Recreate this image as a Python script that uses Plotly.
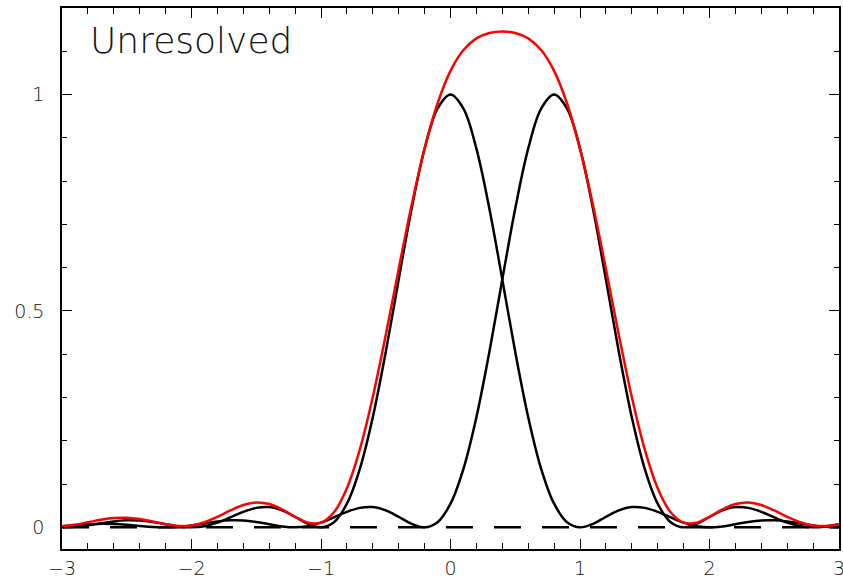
import plotly.graph_objects as go

# x grid (step 0.1) from -3 to 3
x = [round(-3 + 0.1 * i, 1) for i in range(61)]

# Single-source pattern centred at 0 (values read/estimated from the picture)
peak_a = [0.0000, 0.0012, 0.0045, 0.0091, 0.0136, 0.0162, 0.0159, 0.0125, 0.0072, 0.0022,
          0.0000, 0.0027, 0.0108, 0.0229, 0.0358, 0.0450, 0.0468, 0.0392, 0.0243, 0.0080,
          0.0000, 0.0119, 0.0547, 0.1353, 0.2546, 0.4053, 0.5728, 0.7368, 0.8751, 0.9675,
          1.0000,
          0.9675, 0.8751, 0.7368, 0.5728, 0.4053, 0.2546, 0.1353, 0.0547, 0.0119, 0.0000,
          0.0080, 0.0243, 0.0392, 0.0468, 0.0450, 0.0358, 0.0229, 0.0108, 0.0027, 0.0000,
          0.0022, 0.0072, 0.0125, 0.0159, 0.0162, 0.0136, 0.0091, 0.0045, 0.0012, 0.0000]

# Single-source pattern centred at 0.8
peak_b = [0.0024, 0.0048, 0.0071, 0.0083, 0.0079, 0.0061, 0.0034, 0.0010, 0.0000, 0.0012,
          0.0045, 0.0091, 0.0136, 0.0162, 0.0159, 0.0125, 0.0072, 0.0022, 0.0000, 0.0027,
          0.0108, 0.0229, 0.0358, 0.0450, 0.0468, 0.0392, 0.0243, 0.0080, 0.0000, 0.0119,
          0.0547, 0.1353, 0.2546, 0.4053, 0.5728, 0.7368, 0.8751, 0.9675, 1.0000, 0.9675,
          0.8751, 0.7368, 0.5728, 0.4053, 0.2546, 0.1353, 0.0547, 0.0119, 0.0000, 0.0080,
          0.0243, 0.0392, 0.0468, 0.0450, 0.0358, 0.0229, 0.0108, 0.0027, 0.0000, 0.0022,
          0.0072]

# Combined intensity (red)
total = [0.0024, 0.0060, 0.0116, 0.0174, 0.0215, 0.0223, 0.0193, 0.0135, 0.0072, 0.0034,
         0.0045, 0.0118, 0.0244, 0.0391, 0.0517, 0.0575, 0.0540, 0.0414, 0.0243, 0.0107,
         0.0108, 0.0348, 0.0905, 0.1803, 0.3014, 0.4445, 0.5971, 0.7448, 0.8751, 0.9794,
         1.0547, 1.1028, 1.1297, 1.1421, 1.1456, 1.1421, 1.1297, 1.1028, 1.0547, 0.9794,
         0.8751, 0.7448, 0.5971, 0.4445, 0.3014, 0.1803, 0.0905, 0.0348, 0.0108, 0.0107,
         0.0243, 0.0414, 0.0540, 0.0575, 0.0517, 0.0391, 0.0244, 0.0118, 0.0045, 0.0034,
         0.0072]

baseline_x = [-3, 3]
baseline_y = [0, 0]

x_tickvals = [-3, -2, -1, 0, 1, 2, 3]
y_tickvals = [0, 0.5, 1]
y_ticktext = ["0", "0.5", "1"]
label_text = "Unresolved"

FONT = "DejaVu Sans"

fig = go.Figure()
fig.add_trace(go.Scatter(x=baseline_x, y=baseline_y, mode="lines",
                         line=dict(color="black", width=2.5, dash="27px,21px"),
                         hoverinfo="skip"))
fig.add_trace(go.Scatter(x=x, y=peak_a, mode="lines",
                         line=dict(color="black", width=2.5, shape="spline")))
fig.add_trace(go.Scatter(x=x, y=peak_b, mode="lines",
                         line=dict(color="black", width=2.5, shape="spline")))
fig.add_trace(go.Scatter(x=x, y=total, mode="lines",
                         line=dict(color="#ff0000", width=2.5, shape="spline")))

axis_common = dict(showgrid=False, zeroline=False, showline=True, linecolor="black",
                   linewidth=1.5, mirror="allticks", ticks="inside", tickcolor="black",
                   tickwidth=1, ticklen=10, automargin=False, ticklabeloverflow="allow",
                   tickfont=dict(family=FONT, size=19, color="#111", weight=200))

fig.update_xaxes(range=[-3, 3], tickvals=x_tickvals, ticklabelstandoff=1,
                 minor=dict(dtick=0.2, ticklen=6, ticks="inside", tickcolor="black", tickwidth=1),
                 **axis_common)
fig.update_yaxes(range=[-0.05, 1.2], tickvals=y_tickvals, ticktext=y_ticktext,
                 ticklabelstandoff=12,
                 minor=dict(dtick=0.1, tick0=0, ticklen=5, ticks="inside", tickcolor="black", tickwidth=1),
                 **axis_common)

fig.add_annotation(text=label_text, xref="paper", yref="paper", x=0.033, y=0.94,
                   xanchor="left", yanchor="middle", showarrow=False,
                   font=dict(family=FONT, size=36, color="#111", weight=200))

fig.update_layout(width=843, height=581, margin=dict(l=62, r=4, t=8, b=32),
                  paper_bgcolor="white", plot_bgcolor="white", showlegend=False)

fig.write_html("out.html")
